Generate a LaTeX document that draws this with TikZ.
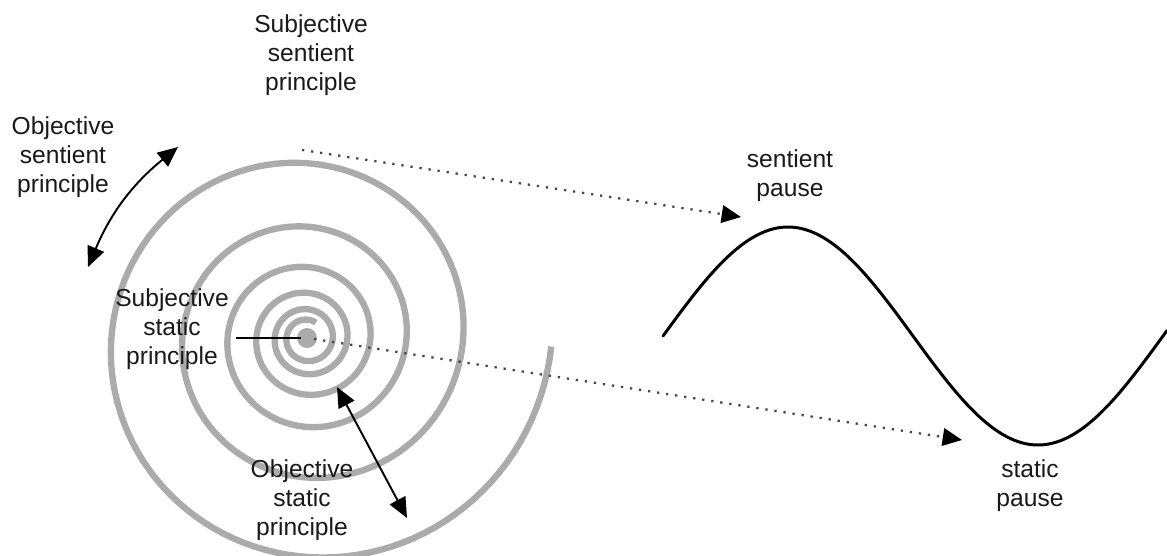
\documentclass[tikz,border=0pt]{standalone}
\usepackage{fontspec}
\setmainfont{Liberation Sans}
\usepackage{tikz}
\usetikzlibrary{arrows.meta, calc}
\tikzset{
  lbl/.style={align=center, inner sep=0pt, text=black!90,
    font=\fontsize{14}{16.6}\selectfont},
  spiralline/.style={line width=3.6pt, draw=black!33, line cap=butt},
  wave/.style={line width=1.7pt, line cap=round},
  twoway/.style={line width=1.1pt,
    {Triangle[length=11.5pt, width=10pt]}-{Triangle[length=11.5pt, width=10pt]}},
  dotarrow/.style={line width=1.3pt, draw=black!72,
    dash pattern=on 1.3pt off 3.9pt,
    -{Triangle[length=11pt, width=10pt, color=black]}}
}

\begin{document}
\begin{tikzpicture}[x=0.02cm, y=-0.02cm]
  \useasboundingbox (0,0) rectangle (1167,555);
  \clip (0,0) rectangle (1167,555);

  % ── Spiral ───────────────────────────────────────────────────────
  \coordinate (ctr) at (307,338);
  \draw[spiralline] plot[domain=2:2100, samples=700, variable=\t]
    ({307+245*exp(-0.00125*\t)*cos(\t)}, {338+245*exp(-0.00125*\t)*sin(\t)});
  \fill[black!33] (ctr) circle (0.2cm);

  % ── Wave ─────────────────────────────────────────────────────────
  \draw[wave] plot[domain=663:1167, samples=160, variable=\x]
    (\x, {336-109*sin((\x-663)/500*360)});

  % ── Labels ───────────────────────────────────────────────────────
  \node[lbl] (subsent)   at (311,55)  {Subjective\\sentient\\principle};
  \node[lbl] (objsent)   at (63,157)  {Objective\\sentient\\principle};
  \node[lbl] (substat)   at (172,329) {Subjective\\static\\principle};
  \node[lbl] (objstat)   at (302,500) {Objective\\static\\principle};
  \node[lbl] (sentpause) at (790,176) {sentient\\pause};
  \node[lbl] (statpause) at (1030,486) {static\\pause};

  % ── Arrows ───────────────────────────────────────────────────────
  \coordinate (osLow)  at (88,267);
  \coordinate (osHigh) at (178,147);
  \draw[twoway] (osLow) to[bend left=14] (osHigh);

  \coordinate (stUp)   at (337,387);
  \coordinate (stDown) at (407,518);
  \draw[twoway] (stUp) -- (stDown);

  \coordinate (pointFrom) at (236,338);
  \draw[line width=1.1pt] (pointFrom) -- ($(ctr)+(-6,0)$);

  \coordinate (topFrom)   at (302,150);
  \coordinate (sentTip)   at (741,217);
  \coordinate (ctrFrom)   at (314,339);
  \coordinate (statTip)   at (962,440);
  \draw[dotarrow] (topFrom) -- (sentTip);
  \draw[dotarrow] (ctrFrom) -- (statTip);
\end{tikzpicture}
\end{document}
